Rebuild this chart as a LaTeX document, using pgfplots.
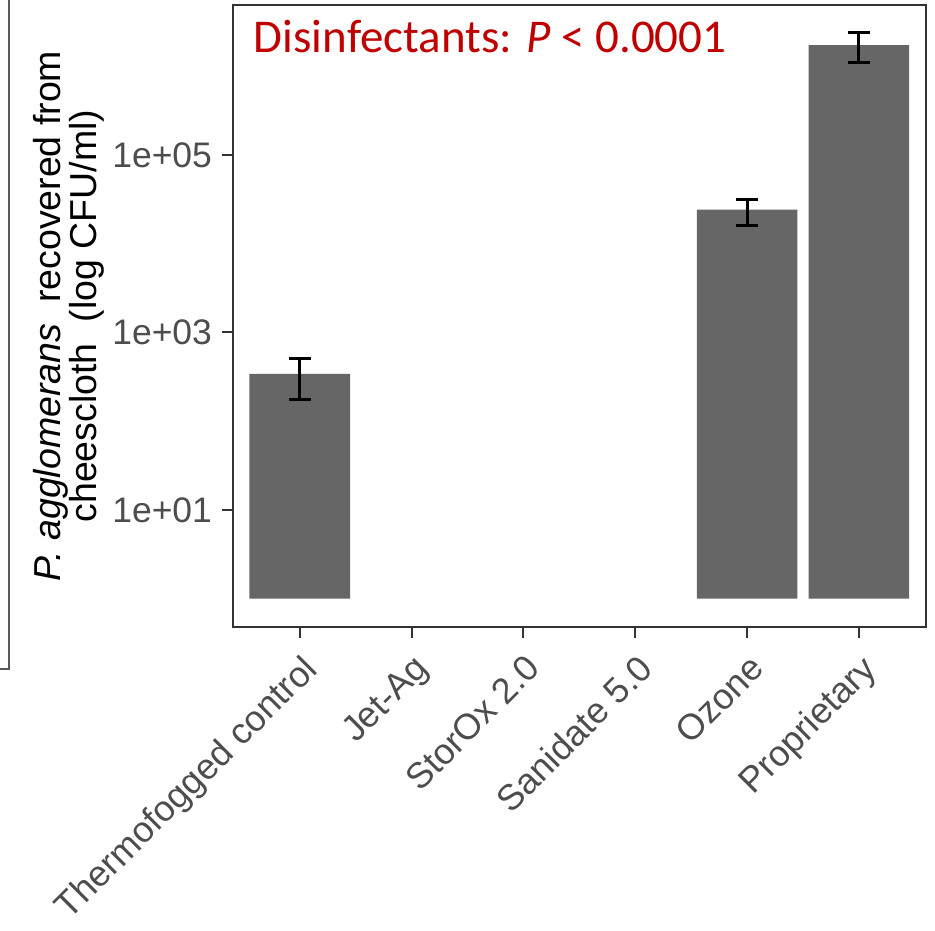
\documentclass[border=0pt]{standalone}
\usepackage{pgfplots}
\pgfplotsset{compat=1.18}
\usepackage{fontspec}
\setmainfont{Liberation Sans}
\newfontfamily\calibri{Carlito}
\definecolor{cborder}{HTML}{333333}
\definecolor{ctick}{HTML}{4D4D4D}
\definecolor{cbar}{HTML}{666666}
\definecolor{ctitle}{HTML}{C00000}
\definecolor{cframe}{HTML}{5A5A5A}
\begin{document}
\begin{tikzpicture}[x=1pt,y=1pt]
\path[use as bounding box] (0,0) rectangle (935,930);
\draw[cframe, line width=2pt] (9,931) -- (9,261) -- (-1,261);
\begin{axis}[
  at={(232.7pt,302.7pt)}, anchor=south west,
  scale only axis, width=693.3pt, height=622.3pt,
  ymode=log, ymin=0.4764, ymax=4897788,
  xmin=-0.6, xmax=5.6,
  xtick={0,1,2,3,4,5},
  xticklabels={Thermofogged control,Jet-Ag,StorOx 2.0,Sanidate 5.0,Ozone,Proprietary},
  ytick={10,1000,100000},
  yticklabels={1e+01,1e+03,1e+05},
  yminorticks=false,
  tick pos=left,
  tick align=outside,
  major tick length=10.5pt,
  tick style={color=cborder, line width=2pt},
  axis line style={color=cborder, line width=2pt},
  x tick label style={rotate=45, anchor=north east, inner sep=0pt, xshift=-10pt, yshift=-11pt,
    font=\fontsize{36}{36}\selectfont, text=ctick},
  y tick label style={inner sep=0pt, xshift=-10pt, font=\fontsize{35.5}{35.5}\selectfont, text=ctick},
  ylabel={\textit{P. agglomerans}\ \ recovered from\\cheescloth\ \ (log CFU/ml)},
  ylabel style={align=center, font=\fontsize{37.5}{34}\selectfont, at={(axis description cs:-0.237,0.5)}, anchor=center},
  clip=false,
]
\addplot[ybar, bar width=100.6pt, fill=cbar, draw=none] coordinates {(0,341) (4,24200) (5,1730000)};
% error bars
\addplot[black, line width=3pt] coordinates {(0,174) (0,503)};
\addplot[black, line width=3pt] coordinates {(-0.1,174) (0.1,174)};
\addplot[black, line width=3pt] coordinates {(-0.1,503) (0.1,503)};
\addplot[black, line width=3pt] coordinates {(4,16000) (4,31400)};
\addplot[black, line width=3pt] coordinates {(3.9,16000) (4.1,16000)};
\addplot[black, line width=3pt] coordinates {(3.9,31400) (4.1,31400)};
\addplot[black, line width=3pt] coordinates {(5,1090000) (5,2370000)};
\addplot[black, line width=3pt] coordinates {(4.9,1090000) (5.1,1090000)};
\addplot[black, line width=3pt] coordinates {(4.9,2370000) (5.1,2370000)};
\node[anchor=base west, inner sep=0pt, text=ctitle, font=\calibri\fontsize{47}{47}\selectfont]
  at (axis description cs:0.0303,0.9229) {Disinfectants: \textit{P} < 0.0001};
\end{axis}
\end{tikzpicture}
\end{document}
